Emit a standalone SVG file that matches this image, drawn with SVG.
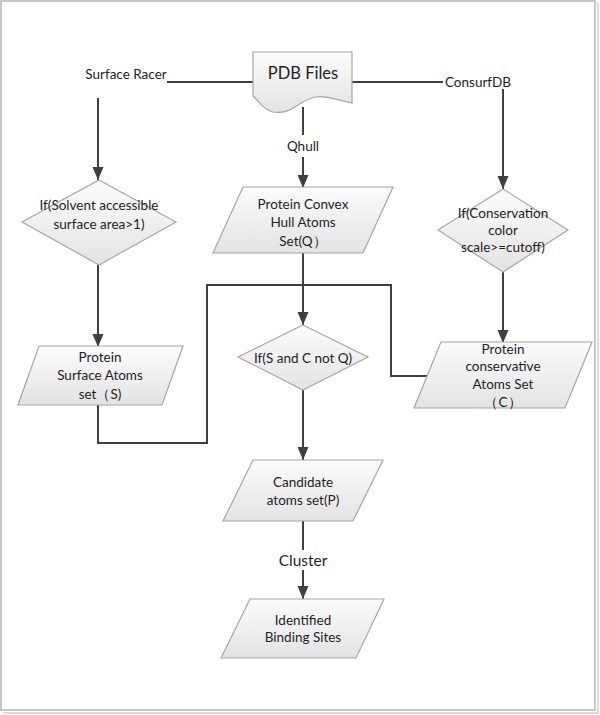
<svg xmlns="http://www.w3.org/2000/svg" width="600" height="715" viewBox="0 0 600 715">
<style>
.shape{fill:url(#g);stroke:#a6a6a6;stroke-width:1.2}
.c{fill:none;stroke:#404040;stroke-width:2}
text{font-family:"Lato","Liberation Sans",sans-serif;font-size:13.5px;fill:#1e1e1e;text-anchor:middle;dominant-baseline:central}
.big{font-size:16.5px}
.mid{font-size:15.5px}
</style>
<defs>
<linearGradient id="g" x1="0" y1="0" x2="0" y2="1">
<stop offset="0" stop-color="#fbfbfb"/>
<stop offset="1" stop-color="#e3e3e3"/>
</linearGradient>
<marker id="a" markerUnits="userSpaceOnUse" markerWidth="14" markerHeight="14" viewBox="0 0 14 14" refX="13" refY="7" orient="auto">
<path d="M0,1.5 L13,7 L0,12.5 Z" fill="#404040"/>
</marker>
</defs>
<rect width="600" height="715" fill="#ffffff"/>
<g id="frame" fill="none">
<rect x="1" y="1" width="594" height="709" stroke="#b4b4b4" stroke-width="1.5"/>
<path d="M598,3 V713 H3" stroke="#d0d0d0" stroke-width="1.5"/>
</g>
<g id="connectors">
<path class="c" d="M254,82 H167"/>
<path class="c" d="M352,82 H443"/>
<path class="c" d="M98,98 V180" marker-end="url(#a)"/>
<path class="c" d="M503,89 V189" marker-end="url(#a)"/>
<path class="c" d="M303,107 V135"/>
<path class="c" d="M303,157 V188" marker-end="url(#a)"/>
<path class="c" d="M98,265 V347" marker-end="url(#a)"/>
<path class="c" d="M503,272 V343" marker-end="url(#a)"/>
<path class="c" d="M303,253 V325" marker-end="url(#a)"/>
<path class="c" d="M98,405 V443 H207 V285 H391 V376 H428"/>
<path class="c" d="M303,390 V460" marker-end="url(#a)"/>
<path class="c" d="M303,521 V550"/>
<path class="c" d="M303,570 V599" marker-end="url(#a)"/>
<text x="126" y="74">Surface Racer</text>
<text x="478" y="82">ConsurfDB</text>
<text x="303" y="146">Qhull</text>
<text class="mid" x="303" y="560">Cluster</text>
</g>
<g id="pdb">
<path class="shape" d="M253,52 H352 V103 C336,100 326,95 316,97 C298,100 293,115 273,112 C263,110 258,100 253,96 Z"/>
<text class="big" x="303" y="73">PDB Files</text>
</g>
<g id="solvent">
<path class="shape" d="M99,180 L176,222 L99,265 L22,222 Z"/>
<text x="99" y="205">If(Solvent accessible</text>
<text x="99" y="224">surface area&gt;1)</text>
</g>
<g id="hull">
<path class="shape" d="M243,187 H393 L363,253 H213 Z"/>
<text x="303" y="204">Protein Convex</text>
<text x="303" y="222">Hull Atoms</text>
<text x="303" y="241">Set(Q）</text>
</g>
<g id="conservation">
<path class="shape" d="M503,189 L568,230 L503,272 L438,230 Z"/>
<text x="503" y="213">If(Conservation</text>
<text x="503" y="230">color</text>
<text x="503" y="247">scale&gt;=cutoff)</text>
</g>
<g id="surface">
<path class="shape" d="M39,346 H183 L162,405 H18 Z"/>
<text x="100" y="357">Protein</text>
<text x="100" y="375">Surface Atoms</text>
<text x="100" y="394">set（S)</text>
</g>
<g id="snotq">
<path class="shape" d="M303,325 L368,357 L303,390 L238,357 Z"/>
<text x="303" y="358">If(S and C not Q)</text>
</g>
<g id="conservative">
<path class="shape" d="M441,342 H592 L565,408 H414 Z"/>
<text x="503" y="349">Protein</text>
<text x="503" y="366">conservative</text>
<text x="503" y="384">Atoms Set</text>
<text x="503" y="402">（C）</text>
</g>
<g id="candidate">
<path class="shape" d="M253,460 H383 L353,521 H223 Z"/>
<text x="303" y="482">Candidate</text>
<text x="303" y="500">atoms set(P)</text>
</g>
<g id="binding">
<path class="shape" d="M250,599 H384 L356,658 H221 Z"/>
<text x="303" y="620">Identified</text>
<text x="303" y="637">Binding Sites</text>
</g>
</svg>
